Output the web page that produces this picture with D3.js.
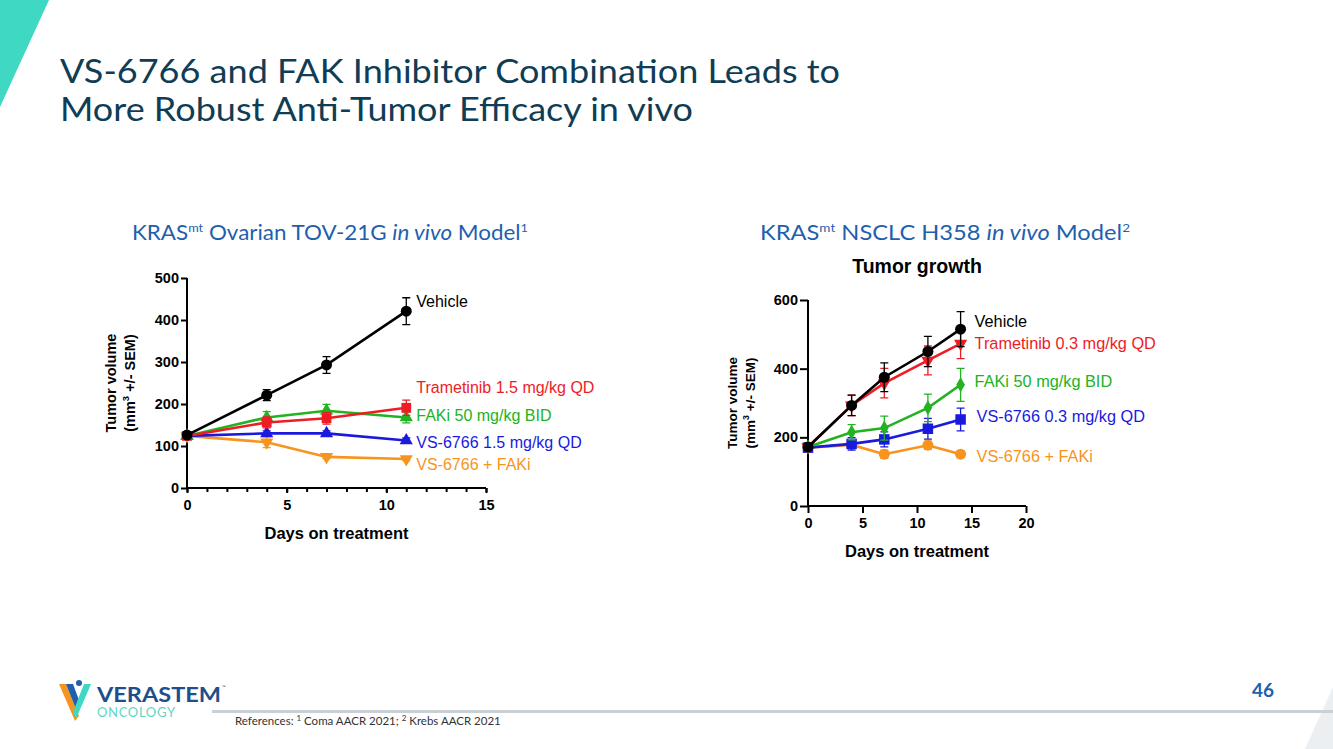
<!DOCTYPE html>
<html>
<head>
<meta charset="utf-8">
<script src="https://cdn.jsdelivr.net/npm/d3@7"></script>
<style>
  body { margin: 0; background: #fff; }
  svg { display: block; }
</style>
</head>
<body>
<svg id="slide" width="1333" height="749"></svg>
<script>
// ---- data ----
const leftDays = [0, 4, 7, 11]
const leftVehicle = [126, 221, 293, 421]
const leftVehicleErr = [8, 13, 20, 32]
const leftTram = [124, 156, 166, 191]
const leftTramErr = [6, 13, 14, 18]
const leftFaki = [124, 168, 184, 168]
const leftFakiErr = [6, 14, 15, 13]
const leftVs = [124, 130, 130, 113]
const leftVsErr = [6, 6, 6, 6]
const leftCombo = [124, 109, 74, 69]
const leftComboErr = [6, 13, 4, 4]
const leftNames = ['Vehicle', 'Trametinib 1.5 mg/kg QD', 'FAKi 50 mg/kg BID', 'VS-6766 1.5 mg/kg QD', 'VS-6766 + FAKi']
const leftLabelAt = [445, 239, 173, 109, 55]
const leftXTicks = [0, 5, 10, 15]
const leftYTicks = [0, 100, 200, 300, 400, 500]

const rightDays = [0, 4, 7, 11, 14]
const rightVehicle = [172, 293, 375, 450, 515]
const rightVehicleErr = [10, 30, 42, 44, 51]
const rightTram = [172, 293, 358, 424, 473]
const rightTramErr = [10, 30, 43, 42, 44]
const rightFaki = [172, 215, 227, 286, 353]
const rightFakiErr = [8, 22, 35, 40, 48]
const rightVs = [170, 181, 194, 225, 252]
const rightVsErr = [8, 18, 22, 30, 33]
const rightCombo = [170, 178, 151, 177, 151]
const rightComboErr = [8, 12, 12, 12, 10]
const rightNames = ['Vehicle', 'Trametinib 0.3 mg/kg QD', 'FAKi 50 mg/kg BID', 'VS-6766 0.3 mg/kg QD', 'VS-6766 + FAKi']
const rightLabelAt = [539, 475, 364, 262, 146]
const rightXTicks = [0, 5, 10, 15, 20]
const rightYTicks = [0, 200, 400, 600]

const colors = ['#000000', '#ee1c25', '#22b222', '#1a1adf', '#f7941d']

const svg = d3.select('#slide')
const ARIAL = 'Liberation Sans, Arial, sans-serif'
const GILL = 'Lato, "Noto Sans", sans-serif'

// ---- slide decoration ----
svg.append('polygon').attr('points', '0,0 49,0 0,107').attr('fill', '#3fd8c2')
svg.append('polygon').attr('points', '1333,687 1333,749 1305,749').attr('fill', '#eceff2')
svg.append('rect').attr('x', 212).attr('y', 710).attr('width', 1121).attr('height', 3).attr('fill', '#c9d1d7')

const title = svg.append('g').attr('font-family', GILL).attr('fill', '#0f3d55').attr('font-size', 32)
title.append('text').attr('x', 60).attr('y', 83).attr('textLength', 780).attr('lengthAdjust', 'spacingAndGlyphs')
  .text('VS-6766 and FAK Inhibitor Combination Leads to')
title.append('text').attr('x', 60).attr('y', 121).attr('textLength', 633).attr('lengthAdjust', 'spacingAndGlyphs')
  .text('More Robust Anti-Tumor Efficacy in vivo')

function subtitle(x, w, model, ref) {
  const t = svg.append('text').attr('x', x).attr('y', 240).attr('font-family', GILL)
    .attr('font-size', 21).attr('fill', '#1f5fae').attr('textLength', w).attr('lengthAdjust', 'spacingAndGlyphs')
  t.append('tspan').text('KRAS')
  t.append('tspan').attr('font-size', 12).attr('dy', -8).text('mt')
  t.append('tspan').attr('dy', 8).text(' ' + model + ' ')
  t.append('tspan').attr('font-style', 'italic').text('in vivo')
  t.append('tspan').text(' Model')
  t.append('tspan').attr('font-size', 12).attr('dy', -8).text(ref)
}
subtitle(132, 396, 'Ovarian TOV-21G', '1')
subtitle(760, 370, 'NSCLC H358', '2')

svg.append('text').attr('x', 1263).attr('y', 697).attr('text-anchor', 'middle').attr('font-family', GILL)
  .attr('font-size', 19).attr('font-weight', 700).attr('fill', '#1f5fae').text('46')

const refs = svg.append('text').attr('x', 235).attr('y', 725).attr('font-family', GILL)
  .attr('font-size', 11.5).attr('fill', '#333')
refs.append('tspan').text('References: ')
refs.append('tspan').attr('font-size', 8).attr('dy', -4).text('1')
refs.append('tspan').attr('dy', 4).text(' Coma AACR 2021; ')
refs.append('tspan').attr('font-size', 8).attr('dy', -4).text('2')
refs.append('tspan').attr('dy', 4).text(' Krebs AACR 2021')

// logo
const logo = svg.append('g')
logo.append('polygon').attr('points', '59,684 66,684 79,716 75,721').attr('fill', '#f7941d')
logo.append('polygon').attr('points', '66,684 73,684 80,703 76,709').attr('fill', '#1f5fae')
logo.append('polygon').attr('points', '91,684 84,684 73,712 76,719').attr('fill', '#3fd8c2')
logo.append('circle').attr('cx', 79).attr('cy', 683).attr('r', 3).attr('fill', '#1f5fae')
logo.append('text').attr('x', 97).attr('y', 702).attr('font-family', GILL).attr('font-weight', 700)
  .attr('font-size', 20).attr('fill', '#1f4e8c').attr('textLength', 124).attr('lengthAdjust', 'spacingAndGlyphs')
  .text('VERASTEM')
logo.append('text').attr('x', 222).attr('y', 689).attr('font-family', GILL).attr('font-size', 5).attr('fill', '#1f4e8c').text('™')
logo.append('text').attr('x', 97).attr('y', 717).attr('font-family', GILL)
  .attr('font-size', 13).attr('fill', '#5fd6c2').attr('textLength', 78).attr('lengthAdjust', 'spacing')
  .text('ONCOLOGY')

// ---- marker shapes ----
function marker(g, shape, color, size) {
  const sym = {
    circle: d3.symbolCircle, square: d3.symbolSquare, triangle: d3.symbolTriangle,
    down: d3.symbolTriangle, diamond: d3.symbolDiamond
  }[shape]
  const p = g.append('path').attr('d', d3.symbol(sym, size)()).attr('fill', color)
  if (shape === 'down') p.attr('transform', 'rotate(180)')
  return p
}

function drawChart(cfg) {
  const x = d3.scaleLinear().domain(cfg.xDomain).range(cfg.xRange)
  const y = d3.scaleLinear().domain(cfg.yDomain).range(cfg.yRange)
  const g = svg.append('g')

  // axes
  const xAxis = g.append('g').attr('transform', `translate(0,${cfg.yRange[0]})`)
    .call(d3.axisBottom(x).tickValues(cfg.xTicks).tickSize(cfg.xTickLen).tickSizeOuter(0).tickPadding(cfg.xPad))
  const yAxis = g.append('g').attr('transform', `translate(${cfg.xRange[0]},0)`)
    .call(d3.axisLeft(y).tickValues(cfg.yTicks).tickSize(cfg.yTickLen).tickSizeOuter(0).tickPadding(2))
  if (cfg.minorX) {
    xAxis.append('g').call(d3.axisBottom(x).tickValues(d3.range(cfg.xDomain[0], cfg.xDomain[1] + 1))
      .tickSize(4).tickSizeOuter(0).tickFormat(''))
      .select('.domain').remove()
  }
  ;[xAxis, yAxis].forEach(a => {
    a.selectAll('path.domain, line').attr('stroke', '#000').attr('stroke-width', 2)
    a.selectAll('text').attr('font-family', ARIAL).attr('font-weight', 700).attr('font-size', 14.5).attr('fill', '#000')
  })
  xAxis.select('path.domain').attr('d', `M${cfg.xRange[0] - 1},0H${cfg.xRange[1]}`)
  yAxis.select('path.domain').attr('d', `M0,${cfg.yRange[1]}V${cfg.yRange[0] + 1}`)

  // axis titles
  const tx = d3.mean(cfg.xRange)
  g.append('text').attr('x', tx).attr('y', cfg.yRange[0] + 51).attr('text-anchor', 'middle')
    .attr('font-family', ARIAL).attr('font-weight', 700).attr('font-size', 16.5).text('Days on treatment')
  const ty = d3.mean(cfg.yRange)
  const yt = g.append('text').attr('transform', `translate(${cfg.xRange[0] - cfg.yTitleDx},${ty}) rotate(-90)`)
    .attr('text-anchor', 'middle').attr('font-family', ARIAL).attr('font-weight', 700).attr('font-size', cfg.yTitleSize)
  yt.append('tspan').attr('x', 0).attr('dy', 0).text('Tumor volume')
  const l2 = yt.append('tspan').attr('x', 0).attr('dy', cfg.yTitleSize * 1.3)
  l2.append('tspan').text('(mm')
  l2.append('tspan').attr('font-size', cfg.yTitleSize * 0.65).attr('dy', -6).text('3')
  l2.append('tspan').attr('dy', 6).text(' +/- SEM)')

  if (cfg.title) {
    g.append('text').attr('x', tx).attr('y', 273).attr('text-anchor', 'middle')
      .attr('font-family', ARIAL).attr('font-weight', 700).attr('font-size', 19.5).text(cfg.title)
  }

  const line = d3.line().x((d, i) => x(cfg.days[i])).y(d => y(d))

  // draw from bottom series to top, vehicle last
  d3.range(cfg.series.length - 1, -1, -1).forEach(k => {
    const s = cfg.series[k]
    const col = colors[k]
    const sg = g.append('g')
    // error bars
    s.values.forEach((v, i) => {
      const cx = x(cfg.days[i])
      const e = s.err[i]
      sg.append('path')
        .attr('d', `M${cx},${y(v - e)}V${y(v + e)}M${cx - 4},${y(v - e)}H${cx + 4}M${cx - 4},${y(v + e)}H${cx + 4}`)
        .attr('stroke', col).attr('stroke-width', 1.3).attr('fill', 'none')
    })
    sg.append('path').attr('d', line(s.values)).attr('stroke', col).attr('stroke-width', 2.6).attr('fill', 'none')
    s.values.forEach((v, i) => {
      const m = sg.append('g').attr('transform', `translate(${x(cfg.days[i])},${y(v)})`)
      marker(m, s.shape, col, s.size)
    })
    const last = cfg.days[cfg.days.length - 1]
    g.append('text').attr('x', x(last) + cfg.labelDx[k]).attr('y', y(cfg.labelAt[k]))
      .attr('dominant-baseline', 'central').attr('font-family', ARIAL).attr('font-size', cfg.labelSize)
      .attr('fill', col).text(cfg.names[k])
  })
}

drawChart({
  xDomain: [0, 15], xRange: [187, 486], yDomain: [0, 500], yRange: [488, 278],
  xTicks: leftXTicks, yTicks: leftYTicks, xTickLen: 5, yTickLen: 6, minorX: true, xPad: 7,
  yTitleDx: 71, yTitleSize: 14.5, labelSize: 16,
  days: leftDays, names: leftNames, labelAt: leftLabelAt, labelDx: [10, 10, 10, 10, 10],
  series: [
    { values: leftVehicle, err: leftVehicleErr, shape: 'circle', size: 95 },
    { values: leftTram, err: leftTramErr, shape: 'square', size: 95 },
    { values: leftFaki, err: leftFakiErr, shape: 'triangle', size: 75 },
    { values: leftVs, err: leftVsErr, shape: 'triangle', size: 75 },
    { values: leftCombo, err: leftComboErr, shape: 'down', size: 75 }
  ]
})

drawChart({
  xDomain: [0, 20], xRange: [808, 1026], yDomain: [0, 600], yRange: [506, 300],
  xTicks: rightXTicks, yTicks: rightYTicks, xTickLen: 7, yTickLen: 8, minorX: false, xPad: 5,
  yTitleDx: 71, yTitleSize: 13.5, labelSize: 16.3,
  title: 'Tumor growth',
  days: rightDays, names: rightNames, labelAt: rightLabelAt, labelDx: [14, 14, 14, 16, 16],
  series: [
    { values: rightVehicle, err: rightVehicleErr, shape: 'circle', size: 95 },
    { values: rightTram, err: rightTramErr, shape: 'down', size: 75 },
    { values: rightFaki, err: rightFakiErr, shape: 'diamond', size: 65 },
    { values: rightVs, err: rightVsErr, shape: 'square', size: 110 },
    { values: rightCombo, err: rightComboErr, shape: 'circle', size: 95 }
  ]
})
</script>
</body>
</html>
